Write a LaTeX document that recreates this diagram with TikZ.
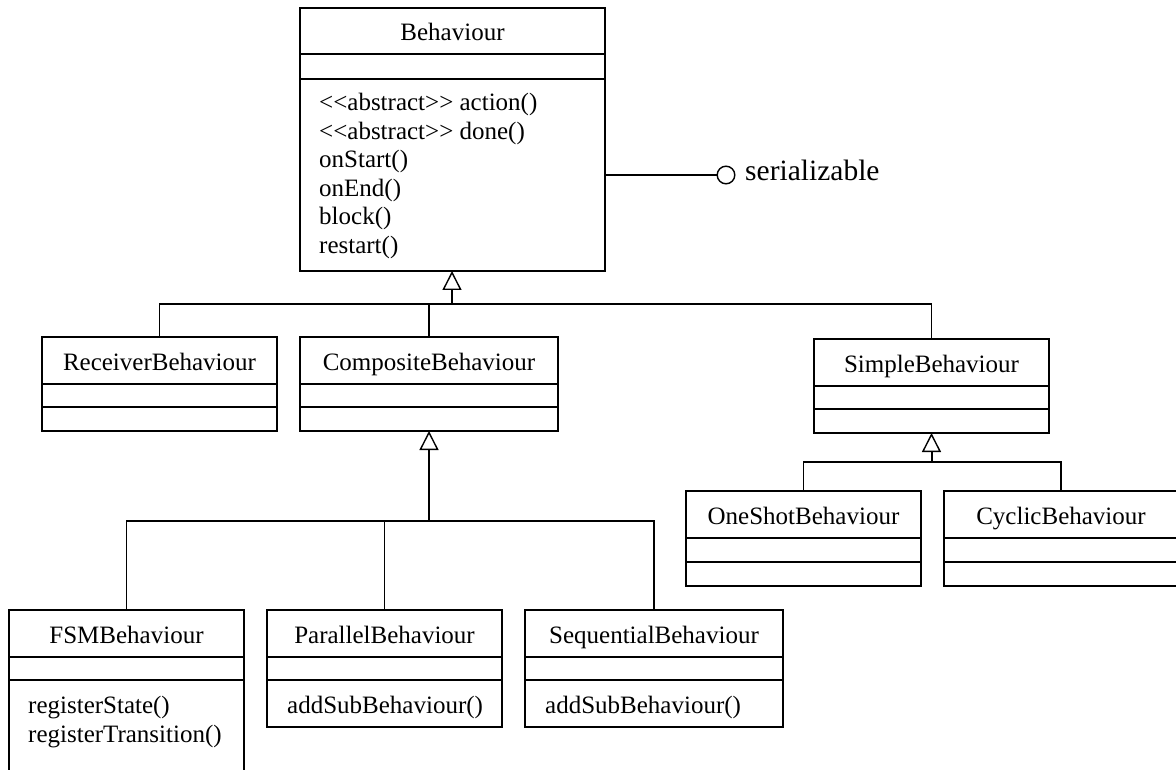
\documentclass[tikz,border=0pt]{standalone}
\usepackage{fontspec}
\setmainfont{Liberation Serif}
\usetikzlibrary{arrows.meta}
\tikzset{
  classbox/.style={draw, line width=1.8pt, inner sep=0pt, outer sep=0pt, anchor=north west},
  classline/.style={line width=1.8pt},
  titletext/.style={anchor=base, inner sep=0pt, font=\fontsize{25}{29}\selectfont},
  methodtext/.style={anchor=base west, inner sep=0pt, font=\fontsize{25}{29}\selectfont},
  conn/.style={line width=1.3pt},
  stem/.style={line width=2pt, -{Triangle[open, length=19pt, width=19pt, line width=1.4pt]}},
}
\newcommand\umlbox[8]{%
  \node[classbox, minimum width={#4-#2}, minimum height={#7-#3}] (#1) at (#2,#3) {};
  \draw[classline] (#2,#5) -- (#4,#5);
  \draw[classline] (#2,#6) -- (#4,#6);
  \node[titletext] (#1-title) at ({(#2+#4)/2},{(#3+#5)/2+10}) {#8};
}
\newcommand\stereo[1]{<\kern0pt<#1>\kern0pt>}
\begin{document}
\begin{tikzpicture}[x=1pt,y=-1pt]
\clip (0,0) rectangle (1176,770);
\fill[white] (0,0) rectangle (1176,770);
% classes
\umlbox{beh}{300}{8}{605}{54}{79}{271}{Behaviour}
\umlbox{recv}{42}{337}{277}{384}{407}{431}{ReceiverBehaviour}
\umlbox{comp}{300}{337}{558}{384}{407}{431}{CompositeBehaviour}
\umlbox{simple}{814}{339}{1049}{386}{409}{433}{SimpleBehaviour}
\umlbox{oneshot}{686}{491}{921}{538}{562}{586}{OneShotBehaviour}
\umlbox{cyclic}{944}{491}{1178}{538}{562}{586}{CyclicBehaviour}
\umlbox{fsm}{9}{610}{244}{657}{680}{800}{FSMBehaviour}
\umlbox{par}{267}{610}{502}{657}{680}{727}{ParallelBehaviour}
\umlbox{seq}{525}{610}{783}{657}{680}{727}{SequentialBehaviour}
% methods
\node[methodtext] (m1) at (319,111) {\stereo{abstract} action()};
\node[methodtext] (m2) at (319,139.5) {\stereo{abstract} done()};
\node[methodtext] (m3) at (319,168) {onStart()};
\node[methodtext] (m4) at (319,196.5) {onEnd()};
\node[methodtext] (m5) at (319,225) {block()};
\node[methodtext] (m6) at (319,253.5) {restart()};
\node[methodtext] (f1) at (28,713) {registerState()};
\node[methodtext] (f2) at (28,742) {registerTransition()};
\node[methodtext] (p1) at (287,713) {addSubBehaviour()};
\node[methodtext] (s1) at (545,713) {addSubBehaviour()};
% interface
\node[circle, draw, line width=1.4pt, minimum size=17.6pt, inner sep=0pt] (ser) at (726,175) {};
\node[anchor=base west, inner sep=0pt, font=\fontsize{29.5}{34}\selectfont] (serlabel) at (745,181) {serializable};
\draw[conn] (beh.east |- ser) -- (ser.west);
% generalization: Behaviour
\coordinate (j1) at (452,304);
\draw[conn] (recv.north) |- (j1) -| (simple.north);
\draw[conn] (comp.north) -- (comp.north |- j1);
\draw[stem] (j1) -- (beh.south -| j1);
% generalization: CompositeBehaviour
\coordinate (j2) at (429,521);
\draw[conn] (fsm.north) |- (j2) -| (seq.north);
\draw[conn] (par.north) -- (par.north |- j2);
\draw[stem] (j2) -- (comp.south);
% generalization: SimpleBehaviour
\coordinate (j3) at (931.5,462);
\draw[conn] (oneshot.north) |- (j3) -| (cyclic.north);
\draw[stem] (j3) -- (simple.south);
\end{tikzpicture}
\end{document}
